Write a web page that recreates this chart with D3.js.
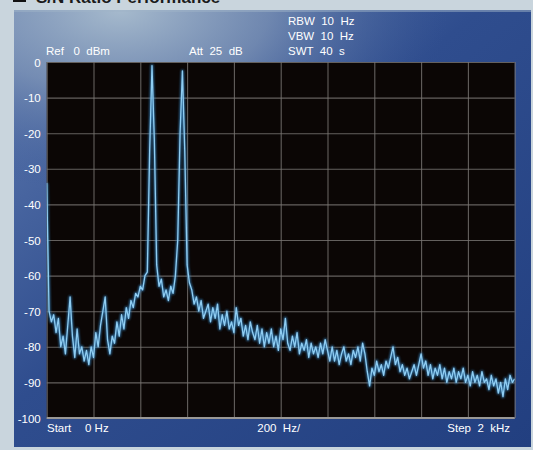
<!DOCTYPE html>
<html><head><meta charset="utf-8">
<script src="https://cdn.jsdelivr.net/npm/d3@7"></script>
<style>html,body{margin:0;padding:0;background:#c9d5dd;}svg{display:block;}</style>
</head><body>
<script>
// ---- data ----
const startHz = 0, stopHz = 2000, stepHz = 10;
const yTicks = [0, -10, -20, -30, -40, -50, -60, -70, -80, -90, -100];
const xGridHz = [0, 200, 400, 600, 800, 1000, 1200, 1400, 1600, 1800, 2000];
const levelsDbm = [
 -34,-70,-73,-71,-76,-72,-80,-77,-82,-74,
 -66,-77,-83,-75,-82,-80,-84,-81,-85,-80,
 -83,-76,-80,-74,-70,-66,-78,-82,-77,-79,
 -73,-77,-71,-75,-69,-72,-67,-69,-65,-66,
 -63,-64,-60,-59,-25,-1,-22,-57,-63,-61,
 -66,-64,-67,-63,-65,-60,-50,-20,-2.5,-25,
 -57,-62,-64,-68,-66,-70,-67,-72,-70,-68,
 -73,-69,-72,-68,-75,-71,-74,-70,-75,-73,
 -76,-69,-74,-72,-77,-74,-78,-73,-76,-78,
 -74,-79,-75,-80,-76,-79,-75,-80,-77,-81,
 -75,-78,-72,-79,-81,-77,-80,-76,-82,-79,
 -81,-78,-83,-79,-82,-80,-83,-79,-82,-78,
 -81,-84,-80,-84,-81,-85,-82,-80,-84,-82,
 -85,-81,-83,-80,-84,-79,-82,-87,-91,-86,
 -88,-84,-87,-85,-88,-84,-86,-83,-80,-85,
 -83,-87,-85,-88,-86,-89,-87,-85,-88,-85,
 -82,-86,-84,-88,-85,-89,-86,-88,-85,-89,
 -86,-90,-87,-89,-86,-90,-87,-89,-86,-90,
 -88,-91,-87,-90,-88,-91,-87,-90,-89,-92,
 -88,-91,-89,-93,-90,-94,-89,-92,-88,-90,
 -89
];
const freqsHz = d3.range(startHz, stopHz + stepHz / 2, stepHz);
const trace = freqsHz.map((f, i) => ({f, v: levelsDbm[i]}));

// ---- layout ----
const W = 533, H = 450;
const plot = {l: 46.7, r: 514.7, t: 62, b: 418};
const svg = d3.select("body").append("svg").attr("width", W).attr("height", H);
const defs = svg.append("defs");

const lg = defs.append("linearGradient").attr("id", "panelLin").attr("x1", 0).attr("y1", 0).attr("x2", 1).attr("y2", 1);
lg.append("stop").attr("offset", "0%").attr("stop-color", "#5f7bb0");
lg.append("stop").attr("offset", "45%").attr("stop-color", "#2f4d8e");
lg.append("stop").attr("offset", "100%").attr("stop-color", "#223f80");
const rg = defs.append("radialGradient").attr("id", "panelGlow")
  .attr("gradientUnits", "userSpaceOnUse").attr("cx", 120).attr("cy", 10).attr("r", 330)
  .attr("gradientTransform", "translate(120,10) scale(1,0.55) translate(-120,-10)");
rg.append("stop").attr("offset", "0%").attr("stop-color", "#a6bacd").attr("stop-opacity", 1);
rg.append("stop").attr("offset", "45%").attr("stop-color", "#8298b8").attr("stop-opacity", 0.7);
rg.append("stop").attr("offset", "100%").attr("stop-color", "#3a5896").attr("stop-opacity", 0);
const glowF = defs.append("filter").attr("id", "glow").attr("x", "-5%").attr("y", "-5%").attr("width", "110%").attr("height", "110%");
glowF.append("feGaussianBlur").attr("stdDeviation", 1.1);

// title (mostly cropped at top)
svg.append("rect").attr("x", 13).attr("y", -10).attr("width", 13).attr("height", 12).attr("fill", "#111");
svg.append("text").attr("x", 36).attr("y", 2.5).attr("font-family", "Liberation Sans, Arial, sans-serif")
  .attr("font-weight", "bold").attr("font-size", 17).attr("fill", "#1a1a1a").text("S/N Ratio Performance");

// panel
svg.append("rect").attr("x", 14).attr("y", 10).attr("width", 517).attr("height", 437).attr("fill", "url(#panelLin)");
svg.append("rect").attr("x", 14).attr("y", 10).attr("width", 517).attr("height", 437).attr("fill", "url(#panelGlow)");
svg.append("rect").attr("x", 14).attr("y", 10).attr("width", 517).attr("height", 2).attr("fill", "#9fb3c8").attr("opacity", 0.5);

// scales
const x = d3.scaleLinear().domain([startHz, stopHz]).range([plot.l, plot.r]);
const y = d3.scaleLinear().domain([-100, 0]).range([plot.b, plot.t]);

// plot background
svg.append("rect").attr("x", plot.l).attr("y", plot.t).attr("width", plot.r - plot.l).attr("height", plot.b - plot.t)
  .attr("fill", "#0b0605");

// grid via axes
const gx = svg.append("g").attr("transform", `translate(0,${plot.b})`)
  .call(d3.axisBottom(x).tickValues(xGridHz).tickSize(-(plot.b - plot.t)).tickFormat(""));
gx.select(".domain").remove();
gx.selectAll("line").attr("stroke", "#7a7774").attr("stroke-width", 1.1).attr("opacity", 0.8);

const gy = svg.append("g").attr("transform", `translate(${plot.l},0)`)
  .call(d3.axisLeft(y).tickValues(yTicks).tickSize(-(plot.r - plot.l)).tickPadding(6)
    .tickFormat(d => d === 0 ? "0" : "-" + Math.abs(d)));
gy.select(".domain").remove();
gy.selectAll("line").attr("stroke", "#7a7774").attr("stroke-width", 1.1).attr("opacity", 0.8);
gy.selectAll("text").attr("fill", "#ffffff").attr("font-family", "Liberation Sans, Arial, sans-serif")
  .attr("font-size", 11.5).attr("dy", "0.35em");

// bottom border line
svg.append("line").attr("x1", plot.l).attr("x2", plot.r).attr("y1", plot.b).attr("y2", plot.b)
  .attr("stroke", "#9a9896").attr("stroke-width", 2);

// trace
const line = d3.line().x(d => x(d.f)).y(d => y(d.v));
const clip = defs.append("clipPath").attr("id", "pclip");
clip.append("rect").attr("x", plot.l).attr("y", plot.t).attr("width", plot.r - plot.l).attr("height", plot.b - plot.t);
const tg = svg.append("g").attr("clip-path", "url(#pclip)");
tg.append("path").datum(trace).attr("d", line).attr("fill", "none").attr("stroke", "#3a8fd0")
  .attr("stroke-width", 3).attr("opacity", 0.7).attr("filter", "url(#glow)").attr("stroke-linejoin", "round");
tg.append("path").datum(trace).attr("d", line).attr("fill", "none").attr("stroke", "#8fcdf2")
  .attr("stroke-width", 1.3).attr("stroke-linejoin", "round");

// labels
const font = "Liberation Sans, Arial, sans-serif";
function label(tx, ty, t, anchor) {
  svg.append("text").attr("x", tx).attr("y", ty).attr("font-family", font).attr("font-size", 11.5)
    .attr("fill", "#ffffff").attr("text-anchor", anchor || "start").attr("xml:space", "preserve").text(t);
}
label(46, 55, "Ref   0  dBm");
label(189, 55, "Att  25  dB");
label(288, 25, "RBW  10  Hz");
label(288, 40, "VBW  10  Hz");
label(288, 55, "SWT  40  s");
label(47, 432, "Start");
label(85, 432, "0 Hz");
label(x(900), 432, "200  Hz/");
label(510, 432, "Step  2  kHz", "end");
</script>
</body></html>
